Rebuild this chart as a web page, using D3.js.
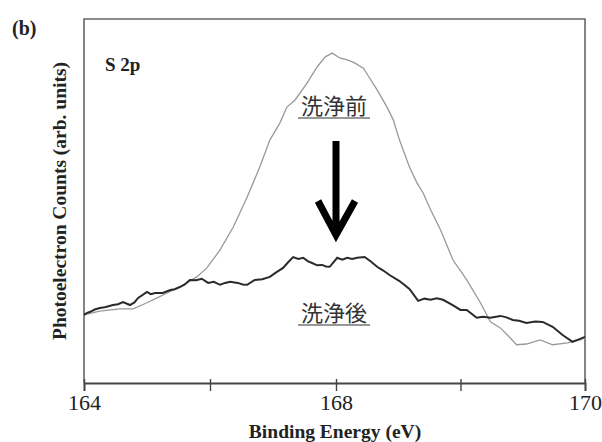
<!DOCTYPE html>
<html>
<head>
<meta charset="utf-8">
<script src="https://cdn.jsdelivr.net/npm/d3@7"></script>
<style>
  body { margin: 0; background: #fff; }
  svg { display: block; }
</style>
</head>
<body>
<svg id="chart" width="602" height="442"></svg>
<script>
// binding energy (eV) / counts
var beforeEnergy = [164.00,164.25,164.57,164.78,165.00,165.16,165.32,165.52,165.79,165.95,166.16,166.37,166.59,166.79,166.95,167.11,167.22,167.35,167.54,167.70,167.83,167.94,168.03,168.09,168.15,168.22,168.26,168.33,168.41,168.46,168.51,168.59,168.65,168.70,168.76,168.84,168.94,169.05,169.16,169.24,169.32,169.40,169.45,169.53,169.64,169.74,169.86,169.96,170.00];
var beforeCounts = [21.1,22.1,22.7,22.7,24.3,25.6,26.9,28.5,31.2,33.6,38.4,44.5,52.5,60.5,67.7,72.3,76.5,78.4,82.9,87.2,89.9,90.9,89.6,89.1,88.3,86.9,84.8,81.1,76.5,73.1,67.7,60.5,56.3,53.6,49.1,43.7,35.7,30.4,24.3,19.2,17.6,14.9,13.1,13.3,14.4,13.1,13.6,14.4,14.9];

var afterEnergy = [164.00,164.05,164.10,164.17,164.25,164.33,164.46,164.54,164.62,164.73,164.80,164.86,165.00,165.06,165.13,165.25,165.37,165.44,165.52,165.60,165.68,165.78,165.87,165.97,166.06,166.16,166.24,166.32,166.44,166.52,166.59,166.71,166.83,166.95,167.05,167.16,167.24,167.32,167.40,167.48,167.55,167.62,167.70,167.78,167.84,167.90,168.01,168.05,168.09,168.13,168.17,168.23,168.28,168.33,168.38,168.43,168.51,168.59,168.66,168.71,168.76,168.81,168.86,168.93,169.00,169.05,169.13,169.18,169.24,169.32,169.37,169.42,169.47,169.53,169.60,169.66,169.74,169.82,169.90,169.94,170.00];
var afterCounts = [21.1,21.6,21.9,22.5,22.9,23.1,23.7,23.9,24.5,23.7,24.4,25.6,27.2,26.6,26.9,26.9,27.7,27.9,28.5,29.2,30.4,30.3,30.7,29.6,29.9,29.1,29.6,29.9,29.6,29.2,29.1,30.4,30.6,31.2,32.4,33.6,35.1,36.5,36.0,36.3,35.4,34.9,34.3,34.4,34.0,33.9,36.3,35.8,36.3,36.0,36.3,36.5,35.3,33.9,32.9,31.7,30.1,28.0,24.8,25.4,25.1,25.5,25.1,23.8,22.4,22.4,20.3,20.6,20.3,20.8,20.4,19.7,19.5,18.9,19.3,19.2,17.9,15.7,13.9,14.4,15.2];

var tickValues = [164, 166, 168, 169, 170];
var tickLabels = ["164", "", "168", "", "170"];

var serif = '"Liberation Serif", "Times New Roman", serif',
    jp = '"Noto Sans CJK JP", sans-serif';

var m = {t:19, r:17, b:59, l:84},
    w = 602 - m.l - m.r,
    h = 442 - m.t - m.b;

var svg = d3.select('#chart');

// the printed axis is not linear: 164-168 takes the same width as 168-170
var x = d3.scaleLinear().domain([164, 168, 170]).range([0, 252, w]);
var y = d3.scaleLinear().domain([2.9, 100]).range([h, 0]);

var g = svg.append("g").attr("transform", "translate(" + m.l + "," + m.t + ")");

// frame
g.append("path")
  .attr("d", "M0," + h + "V0H" + w + "V" + h)
  .attr("fill", "none").attr("stroke", "#666").attr("stroke-width", 1.6);

var xAxis = g.append("g")
  .attr("transform", "translate(0," + h + ")")
  .call(d3.axisBottom(x).tickValues(tickValues).tickSize(8)
    .tickFormat(function(d, i) { return tickLabels[i]; }));
xAxis.select(".domain").attr("stroke", "#444").attr("stroke-width", 1.8);
xAxis.selectAll(".tick line").attr("stroke", "#444").attr("stroke-width", 1.4).attr("y1", -4);
xAxis.selectAll(".tick text")
  .style("font-family", serif).style("font-size", "22px").style("fill", "#222")
  .attr("y", 11).attr("dy", "0.71em");

function line(xs, ys) {
  return d3.line()
    .x(function(d, i) { return x(xs[i]); })
    .y(function(d, i) { return y(ys[i]); })(xs);
}

g.append("path").attr("d", line(beforeEnergy, beforeCounts))
  .attr("fill", "none").attr("stroke", "#999").attr("stroke-width", 1.3);
g.append("path").attr("d", line(afterEnergy, afterCounts))
  .attr("fill", "none").attr("stroke", "#2a2a2a").attr("stroke-width", 2);

// arrow
g.append("path")
  .attr("d", "M252,122V214M234,182L252,216L271,182")
  .attr("fill", "none").attr("stroke", "#000").attr("stroke-width", 7)
  .attr("stroke-linejoin", "miter");

// labels
function label(px, py, txt) {
  g.append("text").attr("x", px).attr("y", py)
    .attr("text-anchor", "middle")
    .style("font-family", jp).style("font-size", "22px").style("fill", "#333")
    .text(txt);
  g.append("line").attr("x1", px - 36).attr("x2", px + 36)
    .attr("y1", py + 4).attr("y2", py + 4)
    .attr("stroke", "#333").attr("stroke-width", 1.2);
}
label(250, 95, "洗浄前");
label(250, 302, "洗浄後");

function boldText(sel, size) {
  return sel.style("font-family", serif).style("font-size", size + "px")
    .style("font-weight", "bold").style("fill", "#222");
}

boldText(g.append("text").attr("x", 21).attr("y", 52), 19).text("S 2p");
boldText(svg.append("text").attr("x", 12).attr("y", 35), 20).text("(b)");

boldText(svg.append("text")
  .attr("transform", "translate(66,201) rotate(-90)")
  .attr("text-anchor", "middle"), 19.5)
  .text("Photoelectron Counts (arb. units)");

boldText(svg.append("text").attr("x", 335).attr("y", 438)
  .attr("text-anchor", "middle"), 19.5)
  .text("Binding Energy (eV)");
</script>
</body>
</html>
